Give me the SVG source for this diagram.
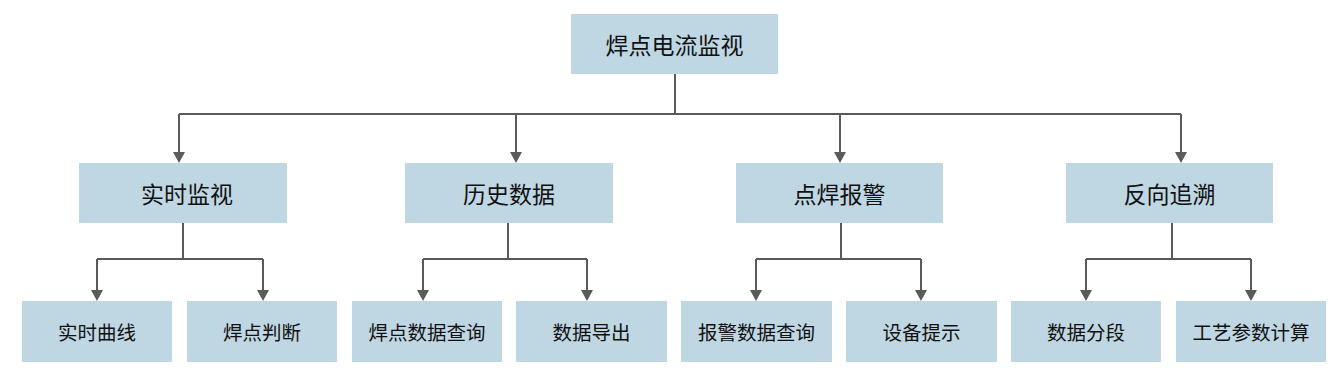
<svg xmlns="http://www.w3.org/2000/svg" width="1341" height="385" viewBox="0 0 1341 385">
<defs>
<style>
.box{fill:#BFD6E3;}
.t1{font-family:"Noto Sans CJK SC","Liberation Sans",sans-serif;font-size:23px;fill:#111;text-anchor:middle;dominant-baseline:central;}
.t2{font-family:"Noto Sans CJK SC","Liberation Sans",sans-serif;font-size:19.5px;fill:#111;text-anchor:middle;dominant-baseline:central;}
.ln{fill:none;stroke:#5A5A5A;stroke-width:2;}
</style>
<marker id="ah" viewBox="0 0 12 11" refX="6" refY="11" markerWidth="12" markerHeight="11" markerUnits="userSpaceOnUse" orient="auto-start-reverse">
<path d="M0,0 L12,0 L6,11 Z" fill="#5A5A5A"/>
</marker>
</defs>
<rect width="1341" height="385" fill="#fff"/>
<g id="connectors">
<path class="ln" d="M675,74 V114"/>
<path class="ln" d="M179,114 H1181"/>
<path class="ln" d="M179,114 V152"/><path d="M173,152 L185,152 L179,163 Z" fill="#5A5A5A"/>
<path class="ln" d="M516,114 V152"/><path d="M510,152 L522,152 L516,163 Z" fill="#5A5A5A"/>
<path class="ln" d="M840,114 V152"/><path d="M834,152 L846,152 L840,163 Z" fill="#5A5A5A"/>
<path class="ln" d="M1181,114 V152"/><path d="M1175,152 L1187,152 L1181,163 Z" fill="#5A5A5A"/>

<path class="ln" d="M183,223 V259 M97,259 H263 M97,259 V290 M263,259 V290"/>
<path d="M91,290 L103,290 L97,301 Z M257,290 L269,290 L263,301 Z" fill="#5A5A5A"/>
<path class="ln" d="M508,223 V259 M423,259 H587 M423,259 V290 M587,259 V290"/>
<path d="M417,290 L429,290 L423,301 Z M581,290 L593,290 L587,301 Z" fill="#5A5A5A"/>
<path class="ln" d="M841,223 V259 M756,259 H921 M756,259 V290 M921,259 V290"/>
<path d="M750,290 L762,290 L756,301 Z M915,290 L927,290 L921,301 Z" fill="#5A5A5A"/>
<path class="ln" d="M1172,223 V259 M1086,259 H1251 M1086,259 V290 M1251,259 V290"/>
<path d="M1080,290 L1092,290 L1086,301 Z M1245,290 L1257,290 L1251,301 Z" fill="#5A5A5A"/>
</g>
<g id="root"><rect class="box" x="571" y="14" width="207" height="60"/><text class="t1" x="674.5" y="44">焊点电流监视</text></g>

<g id="n1"><rect class="box" x="79" y="163" width="208" height="60"/><text class="t1" x="187" y="193">实时监视</text></g>
<g id="n2"><rect class="box" x="405" y="163" width="208" height="60"/><text class="t1" x="509" y="193">历史数据</text></g>
<g id="n3"><rect class="box" x="736" y="163" width="207" height="60"/><text class="t1" x="839.5" y="193">点焊报警</text></g>
<g id="n4"><rect class="box" x="1066" y="163" width="207" height="60"/><text class="t1" x="1169.5" y="193">反向追溯</text></g>

<g id="n11"><rect class="box" x="22" y="301" width="150" height="61"/><text class="t2" x="97" y="331">实时曲线</text></g>
<g id="n12"><rect class="box" x="187" y="301" width="150" height="61"/><text class="t2" x="262" y="331">焊点判断</text></g>
<g id="n21"><rect class="box" x="352" y="301" width="150" height="61"/><text class="t2" x="427" y="331">焊点数据查询</text></g>
<g id="n22"><rect class="box" x="516" y="301" width="151" height="61"/><text class="t2" x="591.5" y="331">数据导出</text></g>
<g id="n31"><rect class="box" x="681" y="301" width="151" height="61"/><text class="t2" x="756.5" y="331">报警数据查询</text></g>
<g id="n32"><rect class="box" x="846" y="301" width="151" height="61"/><text class="t2" x="921.5" y="331">设备提示</text></g>
<g id="n41"><rect class="box" x="1011" y="301" width="150" height="61"/><text class="t2" x="1086" y="331">数据分段</text></g>
<g id="n42"><rect class="box" x="1176" y="301" width="150" height="61"/><text class="t2" x="1251" y="331">工艺参数计算</text></g>
</svg>
